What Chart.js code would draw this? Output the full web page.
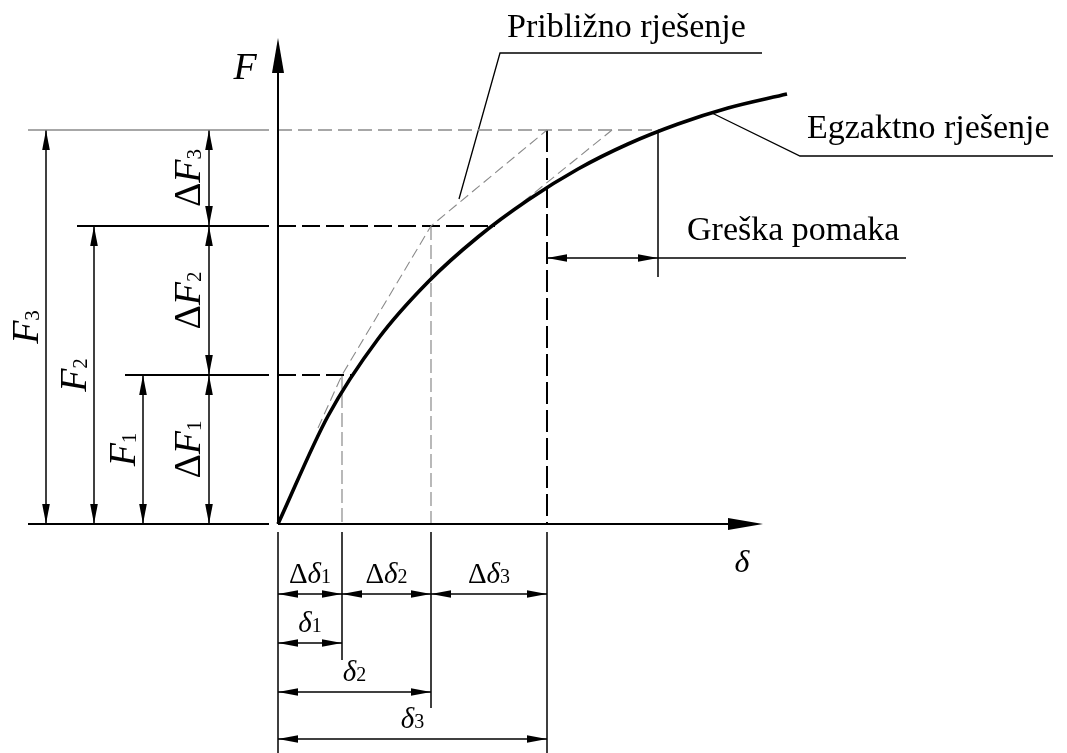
<!DOCTYPE html>
<html><head><meta charset="utf-8">
<script src="https://cdn.jsdelivr.net/npm/chart.js@4.4.1/dist/chart.umd.min.js"></script>
<style>html,body{margin:0;padding:0;background:#fff;}canvas{display:block;}</style>
</head><body>
<canvas id="c" width="1067" height="753"></canvas>
<script>
// ---------------- data (δ horizontal, F vertical, arbitrary units) ----------------
const stepNames = ['1', '2', '3'];
const deltaValues = [0.64, 1.53, 2.69];          // δ1, δ2, δ3
const forceValues = [1.49, 2.98, 3.94];          // F1, F2, F3
const exactDelta = [0, 0.5, 1.0, 1.5, 2.0, 2.5, 3.0, 3.5, 4.0, 4.5, 5.09];
const exactForce = [0, 1.08, 1.85, 2.42, 2.87, 3.24, 3.55, 3.80, 4.00, 4.16, 4.30];
const approxDelta = [0.40, 0.64, 1.53, 2.69];
const approxForce = [0.96, 1.49, 2.98, 3.94];
const tangentDelta = [2.45, 3.34];
const tangentForce = [3.22, 3.94];
const exactDeltaAtF = [0.75, 2.17, 3.82];       // δ where exact curve reaches F1, F2, F3
const calloutTexts = ['Približno rješenje', 'Egzaktno rješenje', 'Greška pomaka'];
const axisNames = ['F', 'δ'];

// ---------------- layout (data units) ----------------
const L = {
  xMin: -2.78, xMax: 7.89, yMin: -2.29, yMax: 5.24,
  fTip: 4.86, dTip: 4.85,
  refStart: [-1.53, -2.01, -2.50], refEnd: -0.09, baseStart: -2.50,
  dimFx: [-1.35, -1.84, -2.32], dimDFx: -0.69,
  extTop: -0.08, extBottom: [-1.36, -1.84, -2.29],
  dimDDy: -0.70, dimDy: [-1.19, -1.68, -2.15],
  errX: 3.80, errY: 2.66, errLow: 2.47, errLeaderEnd: 6.28,
  exactLeader: [[4.34, 4.11], [5.22, 3.68], [7.75, 3.68]],
  approxLeader: [[1.81, 3.25], [2.22, 4.71], [4.84, 4.71]],
  approxText: [2.29, 4.87], exactText: [5.29, 3.86], errText: [4.09, 2.84],
  fLabel: [-0.33, 4.45], dLabel: [4.64, -0.48]
};

const BLACK = '#000', GRAY = '#8a8a8a';
function seg(pts, color, width, dash) {
  return { data: pts.map(p => ({ x: p[0], y: p[1] })), showLine: true, borderColor: color,
    backgroundColor: color, borderWidth: width, borderDash: dash || [], pointRadius: 0,
    pointHoverRadius: 0, fill: false, tension: 0 };
}

const datasets = [];
// exact curve (first => drawn on top)
const exactDs = seg(exactDelta.map((d, i) => [d, exactForce[i]]), BLACK, 3.6);
exactDs.cubicInterpolationMode = 'monotone';
exactDs.borderJoinStyle = 'round';
datasets.push(exactDs);
// approximate solution
datasets.push(seg(approxDelta.map((d, i) => [d, approxForce[i]]), GRAY, 1.1, [10, 5]));
datasets.push(seg(tangentDelta.map((d, i) => [d, tangentForce[i]]), GRAY, 1.1, [10, 5]));
// axes
datasets.push(seg([[0, 0], [0, L.fTip - 0.2]], BLACK, 2));
datasets.push(seg([[0, 0], [L.dTip - 0.2, 0]], BLACK, 2));
datasets.push(seg([[L.baseStart, 0], [L.refEnd, 0]], BLACK, 2));
// reference levels
forceValues.forEach((f, i) => {
  const col = i === 2 ? GRAY : BLACK;
  datasets.push(seg([[L.refStart[i], f], [L.refEnd, f]], col, i === 2 ? 1.3 : 2));
  datasets.push(seg([[0, f], [exactDeltaAtF[i], f]], col, i === 2 ? 1.3 : 2, i === 2 ? [14, 6] : [18, 6]));
});
// vertical projections
deltaValues.forEach((d, i) => {
  if (i < 2) datasets.push(seg([[d, forceValues[i]], [d, 0]], GRAY, 1.2, [14, 5]));
  else datasets.push(seg([[d, forceValues[i]], [d, 0]], BLACK, 2, [22, 6]));
});
// extension lines below the δ axis
datasets.push(seg([[0, L.extTop], [0, L.yMin]], BLACK, 1.5));
deltaValues.forEach((d, i) => datasets.push(seg([[d, L.extTop], [d, L.extBottom[i]]], BLACK, 1.5)));
// error indicator
datasets.push(seg([[L.errX, forceValues[2]], [L.errX, L.errLow]], BLACK, 1.5));
datasets.push(seg([[L.errX, L.errY], [L.errLeaderEnd, L.errY]], BLACK, 1.5));
// callout leaders
datasets.push(seg(L.exactLeader, BLACK, 1.3));
datasets.push(seg(L.approxLeader, BLACK, 1.3));

// dimension arrows (both ends)
const dims = [];
forceValues.forEach((f, i) => {
  dims.push({ a: [L.dimFx[i], 0], b: [L.dimFx[i], f] });
  dims.push({ a: [L.dimDFx, i ? forceValues[i - 1] : 0], b: [L.dimDFx, f] });
});
deltaValues.forEach((d, i) => {
  dims.push({ a: [i ? deltaValues[i - 1] : 0, L.dimDDy], b: [d, L.dimDDy] });
  dims.push({ a: [0, L.dimDy[i]], b: [d, L.dimDy[i]] });
});
dims.push({ a: [deltaValues[2], L.errY], b: [L.errX, L.errY] });
dims.forEach(o => datasets.push(seg([o.a, o.b], BLACK, 1.5)));

const SERIF = '"Liberation Serif", "Times New Roman", serif';
function head(ctx, tx, ty, fx, fy, len, hw) {
  const dx = tx - fx, dy = ty - fy, d = Math.hypot(dx, dy), ux = dx / d, uy = dy / d;
  const bx = tx - ux * len, by = ty - uy * len;
  ctx.beginPath(); ctx.moveTo(tx, ty);
  ctx.lineTo(bx - uy * hw, by + ux * hw); ctx.lineTo(bx + uy * hw, by - ux * hw);
  ctx.closePath(); ctx.fill();
}
function runs(ctx, list, cx, by, rot) {
  ctx.save(); ctx.translate(cx, by); ctx.rotate(rot || 0);
  let w = 0;
  list.forEach(r => { ctx.font = r.f; r.w = ctx.measureText(r.t).width; w += r.w; });
  let x = -w / 2; ctx.textAlign = 'left'; ctx.textBaseline = 'alphabetic'; ctx.fillStyle = BLACK;
  list.forEach(r => { ctx.font = r.f; ctx.fillText(r.t, x, r.dy || 0); x += r.w; });
  ctx.restore();
}

const diagramPlugin = {
  id: 'diagram',
  afterDatasetsDraw(chart) {
    const ctx = chart.ctx, sx = chart.scales.x, sy = chart.scales.y;
    const X = v => sx.getPixelForValue(v), Y = v => sy.getPixelForValue(v);
    ctx.save(); ctx.fillStyle = BLACK;
    // axis arrows
    head(ctx, X(0), Y(L.fTip), X(0), Y(0), 35, 6);
    head(ctx, X(L.dTip), Y(0), X(0), Y(0), 35, 6);
    // dimension arrowheads
    dims.forEach(o => {
      const ax = X(o.a[0]), ay = Y(o.a[1]), bx = X(o.b[0]), by = Y(o.b[1]);
      head(ctx, ax, ay, bx, by, 20, 3.8);
      head(ctx, bx, by, ax, ay, 20, 3.8);
    });
    // F labels (rotated)
    const big = '38px ' + SERIF, bigI = 'italic 38px ' + SERIF, sub = '21px ' + SERIF;
    forceValues.forEach((f, i) => {
      runs(ctx, [{ t: axisNames[0], f: bigI }, { t: stepNames[i], f: sub, dy: 1 }],
        X(L.dimFx[i]) - 8, Y(f / 2), -Math.PI / 2);
      const lo = i ? forceValues[i - 1] : 0;
      runs(ctx, [{ t: 'Δ', f: big }, { t: axisNames[0], f: bigI }, { t: stepNames[i], f: sub, dy: 1 }],
        X(L.dimDFx) - 9, Y((lo + f) / 2), -Math.PI / 2);
    });
    // δ labels
    const mid = '29px ' + SERIF, midI = 'italic 29px ' + SERIF, sub2 = '20px ' + SERIF;
    deltaValues.forEach((d, i) => {
      const lo = i ? deltaValues[i - 1] : 0;
      runs(ctx, [{ t: 'Δ', f: mid }, { t: axisNames[1], f: midI }, { t: stepNames[i], f: sub2 }],
        X((lo + d) / 2), Y(L.dimDDy) - 11);
      runs(ctx, [{ t: axisNames[1], f: midI }, { t: stepNames[i], f: sub2 }],
        X(d / 2), Y(L.dimDy[i]) - 11);
    });
    // axis names
    runs(ctx, [{ t: axisNames[0], f: 'italic 38px ' + SERIF }], X(L.fLabel[0]), Y(L.fLabel[1]));
    runs(ctx, [{ t: axisNames[1], f: 'italic 32px ' + SERIF }], X(L.dLabel[0]), Y(L.dLabel[1]));
    // callout texts
    ctx.font = '34px ' + SERIF; ctx.textAlign = 'left'; ctx.textBaseline = 'alphabetic';
    ctx.fillText(calloutTexts[0], X(L.approxText[0]), Y(L.approxText[1]));
    ctx.fillText(calloutTexts[1], X(L.exactText[0]), Y(L.exactText[1]));
    ctx.fillText(calloutTexts[2], X(L.errText[0]), Y(L.errText[1]));
    ctx.restore();
  }
};

new Chart(document.getElementById('c'), {
  type: 'scatter',
  data: { datasets },
  options: {
    responsive: false, animation: false, devicePixelRatio: 1,
    layout: { padding: 0 },
    plugins: { legend: { display: false }, tooltip: { enabled: false } },
    events: [],
    scales: {
      x: { type: 'linear', min: L.xMin, max: L.xMax, display: false },
      y: { type: 'linear', min: L.yMin, max: L.yMax, display: false }
    },
    elements: { line: { borderCapStyle: 'butt' } }
  },
  plugins: [diagramPlugin]
});
</script>
</body></html>
